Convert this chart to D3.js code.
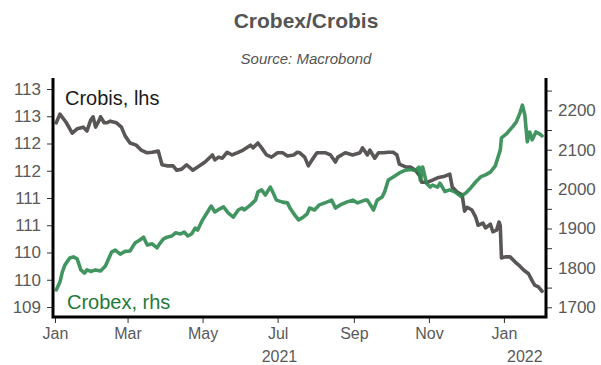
<!DOCTYPE html>
<html>
<head>
<meta charset="utf-8">
<script src="https://cdn.jsdelivr.net/npm/d3@7"></script>
<style>
  html, body { margin: 0; padding: 0; background: #fff; }
  svg { display: block; font-family: "Liberation Sans", Arial, Helvetica, sans-serif; }
</style>
</head>
<body>
<svg id="chart" width="601" height="365"></svg>
<script>
// ---------------- DATA ----------------
const crobisDates = [
  "2021-01-02","2021-01-05","2021-01-10","2021-01-15","2021-01-19","2021-01-24","2021-01-27","2021-01-30",
  "2021-02-01","2021-02-03","2021-02-06","2021-02-07","2021-02-10","2021-02-12","2021-02-15","2021-02-20",
  "2021-02-24","2021-02-27","2021-03-03","2021-03-08","2021-03-12","2021-03-17","2021-03-21","2021-03-26",
  "2021-03-29","2021-04-02","2021-04-07","2021-04-10","2021-04-14","2021-04-18","2021-04-23","2021-04-27",
  "2021-05-03","2021-05-09","2021-05-11","2021-05-14","2021-05-17","2021-05-21","2021-05-25","2021-05-29",
  "2021-06-03","2021-06-09","2021-06-11","2021-06-15","2021-06-18","2021-06-22","2021-06-26","2021-07-01",
  "2021-07-05","2021-07-09","2021-07-14","2021-07-17","2021-07-19","2021-07-23","2021-07-26","2021-07-29",
  "2021-08-02","2021-08-09","2021-08-13","2021-08-17","2021-08-19","2021-08-25","2021-08-31","2021-09-06",
  "2021-09-08","2021-09-12","2021-09-14","2021-09-18","2021-09-21","2021-09-25","2021-09-29","2021-10-03",
  "2021-10-06","2021-10-08","2021-10-13","2021-10-17","2021-10-21","2021-10-25","2021-10-26","2021-10-31",
  "2021-11-04","2021-11-08","2021-11-14","2021-11-18","2021-11-20","2021-11-24","2021-11-28","2021-11-30",
  "2021-12-02","2021-12-06","2021-12-09","2021-12-11","2021-12-15","2021-12-17","2021-12-21","2021-12-23",
  "2021-12-26","2021-12-28","2021-12-29","2021-12-30","2022-01-02","2022-01-06","2022-01-10","2022-01-14",
  "2022-01-17","2022-01-21","2022-01-24","2022-01-26","2022-01-29","2022-02-01"
];
const crobisValues = [
  112.38,112.54,112.39,112.19,112.27,112.30,112.23,112.43,
  112.49,112.30,112.43,112.49,112.38,112.38,112.41,112.38,
  112.30,112.14,112.01,111.97,111.88,111.83,111.84,111.86,
  111.61,111.59,111.59,111.51,111.53,111.61,111.51,111.57,
  111.66,111.79,111.70,111.75,111.73,111.84,111.79,111.83,
  111.88,111.97,111.92,112.01,111.92,111.79,111.75,111.83,
  111.83,111.77,111.79,111.84,111.83,111.75,111.59,111.70,
  111.83,111.83,111.79,111.66,111.75,111.83,111.79,111.83,
  111.92,111.79,111.88,111.73,111.83,111.83,111.84,111.84,
  111.79,111.62,111.57,111.57,111.51,111.39,111.29,111.29,
  111.33,111.37,111.40,111.44,111.20,111.11,111.06,110.76,
  110.83,110.78,110.65,110.50,110.54,110.45,110.52,110.38,
  110.41,110.56,110.50,109.90,109.92,109.92,109.83,109.75,
  109.68,109.61,109.48,109.40,109.37,109.29
];

const crobexDates = [
  "2021-01-02","2021-01-05","2021-01-07","2021-01-09","2021-01-13","2021-01-16","2021-01-19","2021-01-22",
  "2021-01-25","2021-01-27","2021-01-30","2021-02-03","2021-02-07","2021-02-11","2021-02-16","2021-02-19",
  "2021-02-23","2021-02-27","2021-03-03","2021-03-07","2021-03-11","2021-03-14","2021-03-17","2021-03-21",
  "2021-03-25","2021-03-27","2021-03-30","2021-04-02","2021-04-06","2021-04-09","2021-04-13","2021-04-16",
  "2021-04-19","2021-04-22","2021-04-25","2021-04-27","2021-05-01","2021-05-05","2021-05-08","2021-05-11",
  "2021-05-15","2021-05-18","2021-05-22","2021-05-26","2021-05-30","2021-06-02","2021-06-04","2021-06-09",
  "2021-06-13","2021-06-15","2021-06-18","2021-06-21","2021-06-25","2021-06-27","2021-06-30","2021-07-05",
  "2021-07-09","2021-07-11","2021-07-15","2021-07-18","2021-07-21","2021-07-25","2021-07-27","2021-07-31",
  "2021-08-04","2021-08-10","2021-08-14","2021-08-17","2021-08-21","2021-08-26","2021-08-31","2021-09-04",
  "2021-09-10","2021-09-12","2021-09-17","2021-09-20","2021-09-24","2021-09-26","2021-09-29","2021-10-03",
  "2021-10-08","2021-10-13","2021-10-17","2021-10-21","2021-10-24","2021-10-25","2021-10-27","2021-10-30",
  "2021-11-02","2021-11-04","2021-11-08","2021-11-10","2021-11-14","2021-11-18","2021-11-22","2021-11-27",
  "2021-12-01","2021-12-05","2021-12-09","2021-12-13","2021-12-17","2021-12-21","2021-12-25","2021-12-27",
  "2021-12-29","2021-12-30","2022-01-03","2022-01-08","2022-01-11","2022-01-14","2022-01-16","2022-01-18",
  "2022-01-20","2022-01-22","2022-01-24","2022-01-27","2022-01-30","2022-02-01"
];
const crobexValues = [
  1744,1764,1790,1807,1825,1828,1823,1795,
  1787,1795,1791,1795,1792,1805,1840,1845,
  1835,1842,1843,1863,1871,1878,1858,1861,
  1851,1861,1873,1878,1881,1889,1886,1891,
  1881,1886,1901,1896,1922,1942,1957,1942,
  1950,1955,1939,1929,1947,1952,1947,1960,
  1972,1993,1998,1985,2005,1993,1972,1967,
  1965,1952,1934,1922,1927,1937,1952,1947,
  1960,1967,1972,1952,1960,1967,1972,1965,
  1972,1972,1947,1972,1980,1993,2023,2031,
  2041,2048,2050,2047,2056,2023,2056,2015,
  2005,2010,2005,2015,1994,1998,1993,1982,
  1990,2003,2018,2031,2036,2043,2059,2079,
  2099,2130,2140,2158,2170,2193,2213,2188,
  2120,2145,2125,2145,2140,2135
];

const leftTickValues = [109, 109.5, 110, 110.5, 111, 111.5, 112, 112.5, 113];
const leftTickLabels = ["109","110","110","111","111","112","112","113","113"];
const rightTickValues = [1700,1750,1800,1850,1900,1950,2000,2050,2100,2150,2200,2250];
const rightTickLabels = ["1700","","1800","","1900","","2000","","2100","","2200",""];
const xTickDates = ["2021-01-01","2021-03-01","2021-05-01","2021-07-01","2021-09-01","2021-11-01","2022-01-01"];
const xTickLabels = ["Jan","Mar","May","Jul","Sep","Nov","Jan"];
const yearLabels = ["2021","2022"];
const yearStarts = ["2021-01-01","2022-01-01"];
const yearEnds = ["2022-01-01","2022-02-04"];

const titleText = "Crobex/Crobis";
const subtitleText = "Source: Macrobond";
const crobisLabel = "Crobis, lhs";
const crobexLabel = "Crobex, rhs";

// ---------------- CHART ----------------
const parse = d3.utcParse("%Y-%m-%d");
const svg = d3.select("#chart");

const L = 53, R = 546, T = 78, B = 317;

const x = d3.scaleUtc()
  .domain([new Date(Date.UTC(2020, 11, 30, 9)), new Date(Date.UTC(2022, 1, 4, 5))])
  .range([L, R]);
const yL = d3.scaleLinear().domain([108.817, 113.202]).range([B, T]);
const yR = d3.scaleLinear().domain([1675.4, 2282.0]).range([B, T]);

const textColor = "#595959";
const fontSize = 17;
const xFontSize = 16;

// Title
svg.append("text").attr("x", 306).attr("y", 28).attr("text-anchor", "middle")
  .attr("font-size", 21).attr("font-weight", "bold").attr("fill", "#555555").text(titleText);
svg.append("text").attr("x", 306).attr("y", 64).attr("text-anchor", "middle")
  .attr("font-size", 15).attr("font-style", "italic").attr("fill", "#555555").text(subtitleText);

// Left axis
const leftAxis = d3.axisLeft(yL).tickValues(leftTickValues)
  .tickFormat((d, i) => leftTickLabels[i]).tickSize(6).tickPadding(6);
const gL = svg.append("g").attr("transform", `translate(${L},0)`).call(leftAxis);
gL.select(".domain").remove();
gL.selectAll(".tick line").attr("stroke", "#333").attr("stroke-width", 1);
gL.selectAll(".tick text").attr("fill", textColor).attr("font-size", fontSize)
  .attr("font-family", '"Liberation Sans", Arial, sans-serif');

// Right axis
const rightAxis = d3.axisRight(yR).tickValues(rightTickValues)
  .tickFormat((d, i) => rightTickLabels[i]).tickSize(6).tickPadding(6);
const gR = svg.append("g").attr("transform", `translate(${R},0)`).call(rightAxis);
gR.select(".domain").remove();
gR.selectAll(".tick line").attr("stroke", "#333").attr("stroke-width", 1);
gR.selectAll(".tick text").attr("fill", textColor).attr("font-size", fontSize)
  .attr("font-family", '"Liberation Sans", Arial, sans-serif');

// Bottom axis
const bottomAxis = d3.axisBottom(x).tickValues(xTickDates.map(parse))
  .tickFormat((d, i) => xTickLabels[i]).tickSize(6).tickPadding(5);
const gB = svg.append("g").attr("transform", `translate(0,${B})`).call(bottomAxis);
gB.select(".domain").remove();
gB.selectAll(".tick line").attr("stroke", "#333").attr("stroke-width", 1);
gB.selectAll(".tick text").attr("fill", textColor).attr("font-size", xFontSize)
  .attr("font-family", '"Liberation Sans", Arial, sans-serif');

// Year labels centred on visible span of each year
yearLabels.forEach((lab, i) => {
  const a = x(parse(yearStarts[i])), b = Math.min(x(parse(yearEnds[i])), R);
  svg.append("text").attr("x", (a + b) / 2).attr("y", 361.5).attr("text-anchor", "middle")
    .attr("font-size", xFontSize).attr("fill", textColor).text(lab);
});

// Lines
const crobisData = crobisDates.map((d, i) => ({ date: parse(d), value: crobisValues[i] }));
const crobexData = crobexDates.map((d, i) => ({ date: parse(d), value: crobexValues[i] }));

svg.append("path").datum(crobisData)
  .attr("fill", "none").attr("stroke", "#5a5655").attr("stroke-width", 3.6)
  .attr("stroke-linejoin", "round").attr("stroke-linecap", "round")
  .attr("d", d3.line().x(d => x(d.date)).y(d => yL(d.value)));

svg.append("path").datum(crobexData)
  .attr("fill", "none").attr("stroke", "#2e8a4f").attr("stroke-opacity", 0.9).attr("stroke-width", 3.6)
  .attr("stroke-linejoin", "round").attr("stroke-linecap", "round")
  .attr("d", d3.line().x(d => x(d.date)).y(d => yR(d.value)));

// Frame (left, right, bottom)
svg.append("path")
  .attr("d", `M${L},${T}V${B}H${R}V${T}`)
  .attr("fill", "none").attr("stroke", "#000").attr("stroke-width", 3);

// Series labels
svg.append("text").attr("x", 65).attr("y", 105).attr("font-size", 20)
  .attr("fill", "#1a1a1a").text(crobisLabel);
svg.append("text").attr("x", 67).attr("y", 309).attr("font-size", 20)
  .attr("fill", "#1e7a3a").text(crobexLabel);
</script>
</body>
</html>
